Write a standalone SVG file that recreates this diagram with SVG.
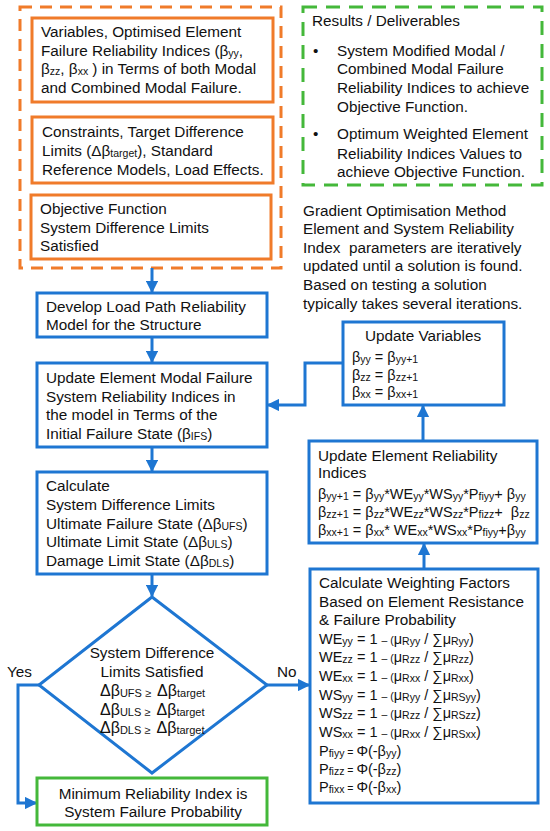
<svg xmlns="http://www.w3.org/2000/svg" width="550" height="831" viewBox="0 0 550 831">
<defs>
<style>
.t{font-family:"Liberation Sans",Arial,sans-serif;font-size:15.3px;fill:#111}
.m{font-size:14.5px}
.s{font-size:10.5px}
.d{font-size:16px}
.ds{font-size:11px}
.c{text-anchor:middle}
.ob{fill:#fff;stroke:#F07B2A;stroke-width:3}
.od{fill:none;stroke:#F07B2A;stroke-width:3;stroke-dasharray:12 8}
.gd{fill:none;stroke:#44B83A;stroke-width:3;stroke-dasharray:14 9}
.bb{fill:#fff;stroke:#1E76D2;stroke-width:3}
.gb{fill:#fff;stroke:#44B83A;stroke-width:3}
.ln{fill:none;stroke:#1E76D2;stroke-width:3}
</style>
<marker id="ah" viewBox="0 0 10 10" refX="9" refY="5" markerWidth="4.2" markerHeight="4.2" orient="auto" markerUnits="strokeWidth">
<path d="M0,0 L10,5 L0,10 z" fill="#1E76D2"/>
</marker>
</defs>
<rect width="550" height="831" fill="#fff"/>

<g id="inputs">
<rect class="od" x="20" y="7" width="261" height="261"/>
</g>
<g id="variables">
<rect class="ob" x="32" y="18" width="241" height="84"/>
<text class="t" x="41" y="37">Variables, Optimised Element</text>
<text class="t" x="41" y="55.5">Failure Reliability Indices (β<tspan class="s" dy="1">yy</tspan><tspan dy="-1">,</tspan></text>
<text class="t" x="41" y="74">β<tspan class="s" dy="1">zz</tspan><tspan dy="-1">, β</tspan><tspan class="s" dy="1">xx</tspan><tspan dy="-1"> ) in Terms of both Modal</tspan></text>
<text class="t" x="41" y="92.5">and Combined Modal Failure.</text>
</g>
<g id="constraints">
<rect class="ob" x="32" y="117" width="241" height="66"/>
<text class="t" x="42" y="137">Constraints, Target Difference</text>
<text class="t" x="42" y="155.5">Limits (Δβ<tspan class="s" dy="1">target</tspan><tspan dy="-1">), Standard</tspan></text>
<text class="t" x="42" y="174.5">Reference Models, Load Effects.</text>
</g>
<g id="objective">
<rect class="ob" x="31" y="195" width="240" height="64"/>
<text class="t" x="40" y="214">Objective Function</text>
<text class="t" x="40" y="232.5">System Difference Limits</text>
<text class="t" x="40" y="251">Satisfied</text>
</g>

<g id="results">
<rect class="gd" x="303" y="7" width="239" height="178"/>
<text class="t" x="312" y="25.5">Results / Deliverables</text>
<text class="t" x="313" y="55.5">•</text>
<text class="t" x="337" y="55.5">System Modified Modal /</text>
<text class="t" x="337" y="74">Combined Modal Failure</text>
<text class="t" x="337" y="93">Reliability Indices to achieve</text>
<text class="t" x="337" y="111.5">Objective Function.</text>
<text class="t" x="313" y="139">•</text>
<text class="t" x="337" y="139">Optimum Weighted Element</text>
<text class="t" x="337" y="158.5">Reliability Indices Values to</text>
<text class="t" x="337" y="177">achieve Objective Function.</text>
</g>

<g id="note">
<text class="t" x="303" y="215.5">Gradient Optimisation Method</text>
<text class="t" x="303" y="234.1">Element and System Reliability</text>
<text class="t" x="303" y="252.7" xml:space="preserve">Index  parameters are iteratively</text>
<text class="t" x="303" y="271.3">updated until a solution is found.</text>
<text class="t" x="303" y="289.9">Based on testing a solution</text>
<text class="t" x="303" y="308.5">typically takes several iterations.</text>
</g>

<g id="connectors">
<line class="ln" x1="152" y1="268" x2="152" y2="292" marker-end="url(#ah)"/>
<line class="ln" x1="152" y1="337" x2="152" y2="362" marker-end="url(#ah)"/>
<line class="ln" x1="152" y1="447" x2="152" y2="471" marker-end="url(#ah)"/>
<line class="ln" x1="152" y1="574" x2="152" y2="596" marker-end="url(#ah)"/>
<polyline class="ln" points="39,685 18,685 18,803 36,803" marker-end="url(#ah)"/>
<line class="ln" x1="267" y1="685" x2="309" y2="685" marker-end="url(#ah)"/>
<line class="ln" x1="424" y1="569" x2="424" y2="544" marker-end="url(#ah)"/>
<line class="ln" x1="423" y1="441" x2="423" y2="406" marker-end="url(#ah)"/>
<polyline class="ln" points="343,363 305,363 305,405 268,405" marker-end="url(#ah)"/>
<text class="t" x="7" y="677">Yes</text>
<text class="t" x="277" y="677">No</text>
</g>

<g id="develop">
<rect class="bb" x="37" y="293" width="230" height="44"/>
<text class="t" x="46" y="311.5">Develop Load Path Reliability</text>
<text class="t" x="46" y="330">Model for the Structure</text>
</g>
<g id="update-modal">
<rect class="bb" x="37" y="363" width="230" height="84"/>
<text class="t" x="46" y="383">Update Element Modal Failure</text>
<text class="t" x="46" y="401.5">System Reliability Indices in</text>
<text class="t" x="46" y="420">the model in Terms of the</text>
<text class="t" x="46" y="439">Initial Failure State (β<tspan class="s" dy="1">IFS</tspan><tspan dy="-1">)</tspan></text>
</g>
<g id="calculate">
<rect class="bb" x="37" y="472" width="230" height="102"/>
<text class="t" x="46" y="490.5">Calculate</text>
<text class="t" x="46" y="509.5">System Difference Limits</text>
<text class="t" x="46" y="528.5">Ultimate Failure State (Δβ<tspan class="s" dy="1">UFS</tspan><tspan dy="-1">)</tspan></text>
<text class="t" x="46" y="547">Ultimate Limit State (Δβ<tspan class="s" dy="1">ULS</tspan><tspan dy="-1">)</tspan></text>
<text class="t" x="46" y="566">Damage Limit State (Δβ<tspan class="s" dy="1">DLS</tspan><tspan dy="-1">)</tspan></text>
</g>
<g id="decision">
<polygon class="bb" points="152,597 267,685 152,773 39,685"/>
<text class="t c" x="152" y="658">System Difference</text>
<text class="t c" x="152" y="676.5">Limits Satisfied</text>
<text class="t d" x="100" y="696" xml:space="preserve">Δβ<tspan class="ds" dy="1">UFS ≥  </tspan><tspan dy="-1">Δβ</tspan><tspan class="ds" dy="1">target</tspan></text>
<text class="t d" x="100" y="714.5" xml:space="preserve">Δβ<tspan class="ds" dy="1">ULS ≥  </tspan><tspan dy="-1">Δβ</tspan><tspan class="ds" dy="1">target</tspan></text>
<text class="t d" x="100" y="733" xml:space="preserve">Δβ<tspan class="ds" dy="1">DLS ≥  </tspan><tspan dy="-1">Δβ</tspan><tspan class="ds" dy="1">target</tspan></text>
</g>
<g id="minimum">
<rect class="gb" x="37" y="778" width="230" height="47"/>
<text class="t c" x="153" y="799">Minimum Reliability Index is</text>
<text class="t c" x="153" y="817">System Failure Probability</text>
</g>

<g id="update-variables">
<rect class="bb" x="343" y="322" width="161" height="83"/>
<text class="t c" x="423" y="340.5">Update Variables</text>
<text class="t m" x="352" y="361.5">β<tspan class="s" dy="1">yy</tspan><tspan dy="-1"> = β</tspan><tspan class="s" dy="1">yy+1</tspan></text>
<text class="t m" x="352" y="380">β<tspan class="s" dy="1">zz</tspan><tspan dy="-1"> = β</tspan><tspan class="s" dy="1">zz+1</tspan></text>
<text class="t m" x="352" y="397">β<tspan class="s" dy="1">xx</tspan><tspan dy="-1"> = β</tspan><tspan class="s" dy="1">xx+1</tspan></text>
</g>
<g id="update-reliability">
<rect class="bb" x="309" y="441" width="228" height="102"/>
<text class="t" x="318" y="460.5">Update Element Reliability</text>
<text class="t" x="318" y="478">Indices</text>
<text class="t m" x="318" y="498.5">β<tspan class="s" dy="1">yy+1</tspan><tspan dy="-1"> = β</tspan><tspan class="s" dy="1">yy</tspan><tspan dy="-1">*WE</tspan><tspan class="s" dy="1">yy</tspan><tspan dy="-1">*WS</tspan><tspan class="s" dy="1">yy</tspan><tspan dy="-1">*P</tspan><tspan class="s" dy="1">fiyy</tspan><tspan dy="-1">+ β</tspan><tspan class="s" dy="1">yy</tspan></text>
<text class="t m" x="318" y="517" xml:space="preserve">β<tspan class="s" dy="1">zz+1</tspan><tspan dy="-1"> = β</tspan><tspan class="s" dy="1">zz</tspan><tspan dy="-1">*WE</tspan><tspan class="s" dy="1">zz</tspan><tspan dy="-1">*WS</tspan><tspan class="s" dy="1">zz</tspan><tspan dy="-1">*P</tspan><tspan class="s" dy="1">fizz</tspan><tspan dy="-1">+  β</tspan><tspan class="s" dy="1">zz</tspan></text>
<text class="t m" x="318" y="535">β<tspan class="s" dy="1">xx+1</tspan><tspan dy="-1"> = β</tspan><tspan class="s" dy="1">xx</tspan><tspan dy="-1">* WE</tspan><tspan class="s" dy="1">xx</tspan><tspan dy="-1">*WS</tspan><tspan class="s" dy="1">xx</tspan><tspan dy="-1">*P</tspan><tspan class="s" dy="1">fiyy</tspan><tspan dy="-1">+β</tspan><tspan class="s" dy="1">yy</tspan></text>
</g>
<g id="weighting">
<rect class="bb" x="310" y="569" width="228" height="234"/>
<text class="t" x="319" y="588">Calculate Weighting Factors</text>
<text class="t" x="319" y="606.5">Based on Element Resistance</text>
<text class="t" x="319" y="625">&amp; Failure Probability</text>
<text class="t m" x="319" y="643.5">WE<tspan class="s" dy="1">yy</tspan><tspan dy="-1"> = 1 </tspan><tspan class="s">– (</tspan>μ<tspan class="s" dy="1">Ryy</tspan><tspan dy="-1"> / ∑μ</tspan><tspan class="s" dy="1">Ryy</tspan><tspan dy="-1">)</tspan></text>
<text class="t m" x="319" y="662">WE<tspan class="s" dy="1">zz</tspan><tspan dy="-1"> = 1 </tspan><tspan class="s">– (</tspan>μ<tspan class="s" dy="1">Rzz</tspan><tspan dy="-1"> / ∑μ</tspan><tspan class="s" dy="1">Rzz</tspan><tspan dy="-1">)</tspan></text>
<text class="t m" x="319" y="681">WE<tspan class="s" dy="1">xx</tspan><tspan dy="-1"> = 1 </tspan><tspan class="s">– (</tspan>μ<tspan class="s" dy="1">Rxx</tspan><tspan dy="-1"> / ∑μ</tspan><tspan class="s" dy="1">Rxx</tspan><tspan dy="-1">)</tspan></text>
<text class="t m" x="319" y="699.5">WS<tspan class="s" dy="1">yy</tspan><tspan dy="-1"> = 1 </tspan><tspan class="s">– (</tspan>μ<tspan class="s" dy="1">Ryy</tspan><tspan dy="-1"> / ∑μ</tspan><tspan class="s" dy="1">RSyy</tspan><tspan dy="-1">)</tspan></text>
<text class="t m" x="319" y="718">WS<tspan class="s" dy="1">zz</tspan><tspan dy="-1"> = 1 </tspan><tspan class="s">– (</tspan>μ<tspan class="s" dy="1">Rzz</tspan><tspan dy="-1"> / ∑μ</tspan><tspan class="s" dy="1">RSzz</tspan><tspan dy="-1">)</tspan></text>
<text class="t m" x="319" y="736.5">WS<tspan class="s" dy="1">xx</tspan><tspan dy="-1"> = 1 </tspan><tspan class="s">– (</tspan>μ<tspan class="s" dy="1">Rxx</tspan><tspan dy="-1"> / ∑μ</tspan><tspan class="s" dy="1">RSxx</tspan><tspan dy="-1">)</tspan></text>
<text class="t m" x="319" y="755.5">P<tspan class="s" dy="1">fiyy</tspan><tspan dy="-1" class="s"> = </tspan>Φ(-β<tspan class="s" dy="1">yy</tspan><tspan dy="-1">)</tspan></text>
<text class="t m" x="319" y="774">P<tspan class="s" dy="1">fizz</tspan><tspan dy="-1" class="s"> = </tspan>Φ(-β<tspan class="s" dy="1">zz</tspan><tspan dy="-1">)</tspan></text>
<text class="t m" x="319" y="792">P<tspan class="s" dy="1">fixx</tspan><tspan dy="-1" class="s"> = </tspan>Φ(-β<tspan class="s" dy="1">xx</tspan><tspan dy="-1">)</tspan></text>
</g>
</svg>
